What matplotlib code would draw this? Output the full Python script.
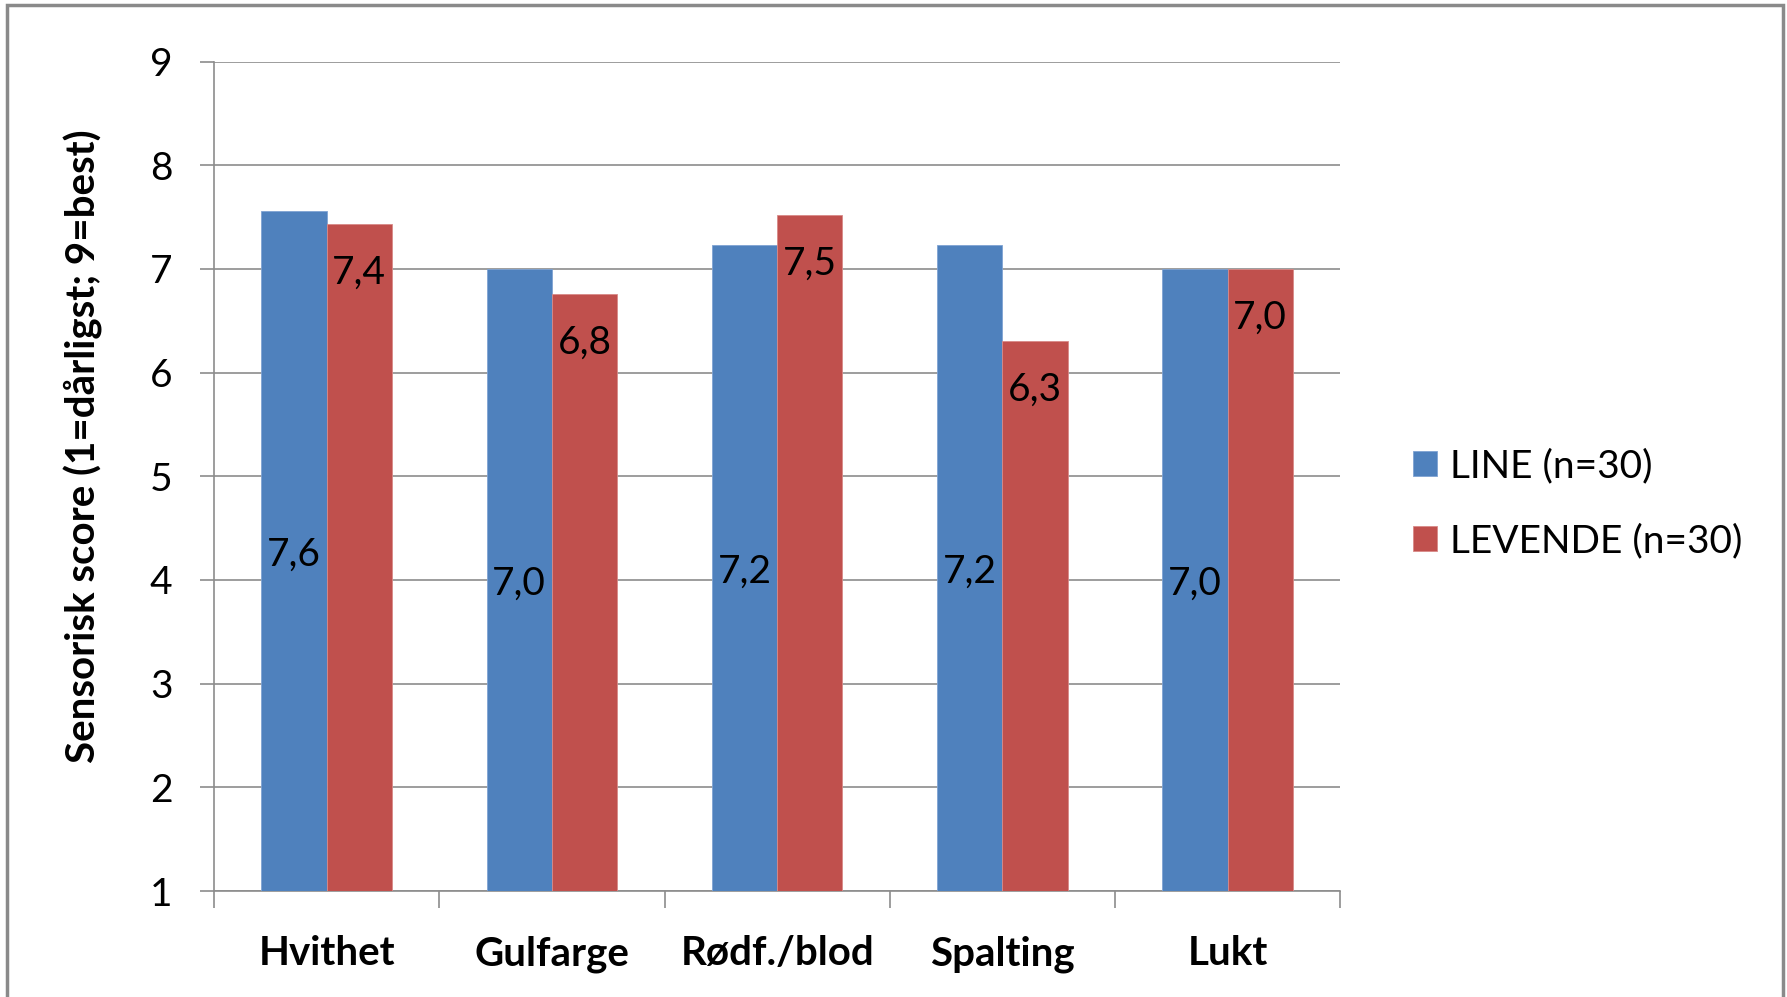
import matplotlib.pyplot as plt
from matplotlib.patches import Rectangle

categories = ['Hvithet', 'Gulfarge', 'Rødf./blod', 'Spalting', 'Lukt']
line_vals = [7.56, 7.0, 7.23, 7.23, 7.0]
levende_vals = [7.43, 6.76, 7.52, 6.30, 7.0]
series_names = ['LINE (n=30)', 'LEVENDE (n=30)']
y_ticks = [1, 2, 3, 4, 5, 6, 7, 8, 9]

blue = '#4F81BD'
red = '#C0504D'
grey = '#8C8C8C'
fs = 28

plt.rcParams['font.family'] = ['Lato', 'DejaVu Sans']

fig = plt.figure(figsize=(17.87, 9.97), dpi=100)
ax = fig.add_axes([0.1198, 0.1063, 0.6302, 0.832])

w = 0.29
xs = list(range(len(categories)))
ax.bar([x - w / 2 for x in xs], [v - 1 for v in line_vals], w, bottom=1,
       color=blue, edgecolor='#7FA3D3', linewidth=0.6, label=series_names[0], zorder=3)
ax.bar([x + w / 2 for x in xs], [v - 1 for v in levende_vals], w, bottom=1,
       color=red, edgecolor='#D88A88', linewidth=0.6, label=series_names[1], zorder=3)

def fmt(v):
  return f'{v:.1f}'.replace('.', ',')

for x, v in zip(xs, line_vals):
  ax.annotate(fmt(v), (x - w / 2, (1 + v) / 2), xytext=(0, -3), textcoords='offset points',
              ha='center', va='center', fontsize=fs, zorder=4)
for x, v in zip(xs, levende_vals):
  ax.annotate(fmt(v), (x + w / 2, v), xytext=(0, -35), textcoords='offset points',
              ha='center', va='center', fontsize=fs, zorder=4)

ax.set_xlim(-0.5, len(categories) - 0.5)
ax.set_ylim(1, 9)
ax.set_yticks(y_ticks)
ax.set_xticks(xs)
ax.set_xticklabels(categories, fontsize=fs + 1, fontweight='bold')
ax.set_xticks([x - 0.5 for x in range(len(categories) + 1)], minor=True)
ax.tick_params(axis='x', which='major', length=0, pad=32)
ax.tick_params(axis='x', which='minor', length=12, width=1.2, color=grey, direction='out')
ax.tick_params(axis='y', labelsize=fs, length=10, width=1.2, color=grey, pad=20)
ax.yaxis.grid(True, color=grey, linewidth=1.2, zorder=0)
for s in ['top', 'right']:
  ax.spines[s].set_visible(False)
for s in ['left', 'bottom']:
  ax.spines[s].set_color(grey)
  ax.spines[s].set_linewidth(1.2)

ax.set_ylabel('Sensorisk score (1=dårligst; 9=best)', fontsize=fs + 1, fontweight='bold')
ax.yaxis.set_label_coords(-0.099, 0.536)

ax.legend(loc='center left', bbox_to_anchor=(1.047, 0.467), frameon=False, fontsize=fs,
          borderpad=0, handlelength=0.62, handleheight=0.62, handletextpad=0.35,
          labelspacing=1.0)

fig.patches.append(Rectangle((7 / 1787, -0.05), (1783 - 7) / 1787, 1.05 - 5 / 997,
                             transform=fig.transFigure, fill=False, edgecolor='#8A8A8A',
                             linewidth=2.5))

plt.savefig('out.png', dpi=100)
